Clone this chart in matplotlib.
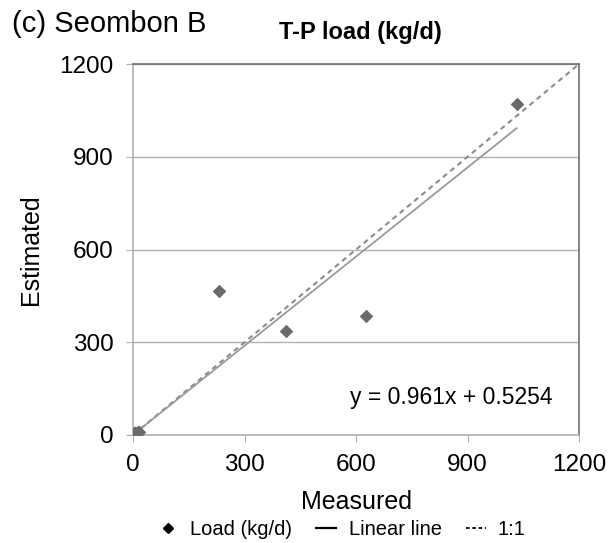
import matplotlib
matplotlib.use("Agg")
import matplotlib.pyplot as plt
from matplotlib.lines import Line2D
import numpy as np

plt.rcParams['font.family'] = ['Liberation Sans', 'DejaVu Sans']

# Measured vs. estimated T-P load (kg/d)
measured = [2, 4, 6, 9, 12, 15, 3, 232, 411, 627, 1032]
estimated = [1, 3, 5, 7, 9, 11, 6, 466, 336, 384, 1071]

slope = 0.961
intercept = 0.5254
ticks = [0, 300, 600, 900, 1200]

fig = plt.figure(figsize=(6.16, 5.43), dpi=100)
ax = fig.add_axes([0.216, 0.199, 0.724, 0.683])

ax.set_xlim(0, 1200)
ax.set_ylim(0, 1200)
ax.set_xticks(ticks)
ax.set_yticks(ticks)
ax.tick_params(labelsize=17.5, length=5, color='#b0b0b0')
ax.tick_params(axis='x', pad=9)
ax.tick_params(axis='y', pad=9)
for side in ['left', 'bottom']:
    ax.spines[side].set_color('#b0b0b0')
for side in ['top', 'right']:
    ax.spines[side].set_color('#707070')
for s in ax.spines.values():
    s.set_linewidth(1.2)
ax.yaxis.grid(True, color='#b0b0b0', linewidth=1.0)
ax.set_axisbelow(True)

# 1:1 reference line
ax.plot([0, 1200], [0, 1200], linestyle=(0, (2.5, 2.0)), color='#8c8c8c', linewidth=1.5, zorder=2)
# fitted linear line over the measured range
xf = np.array([0, max(measured)])
ax.plot(xf, slope * xf + intercept, color='#9a9a9a', linewidth=1.3, zorder=2)
# observations
ax.scatter(measured, estimated, marker='D', s=48, color='#6a6a6a', zorder=3, linewidths=0)

ax.text(0.94, 0.10, f"y = {slope}x + {intercept}", transform=ax.transAxes,
        ha='right', va='center', fontsize=16.5)

ax.set_xlabel('Measured', fontsize=18, labelpad=10)
ax.set_ylabel('Estimated', fontsize=18, labelpad=12)

fig.text(0.02, 0.955, '(c) Seombon B', fontsize=21, ha='left', va='center')
fig.text(0.585, 0.94, 'T-P load (kg/d)', fontsize=17, fontweight='bold', ha='center', va='center')

handles = [
    Line2D([], [], marker='D', linestyle='none', color='black', markersize=5.5),
    Line2D([], [], color='black', linewidth=1.6),
    Line2D([], [], color='black', linestyle=(0, (2, 1.5)), linewidth=1.3),
]
fig.legend(handles, ['Load (kg/d)', 'Linear line', '1:1'], loc='center',
           bbox_to_anchor=(0.555, 0.025), ncol=3, frameon=False, fontsize=14.5,
           handlelength=1.0, handletextpad=0.6, columnspacing=1.2)

fig.savefig('out.png', dpi=100)
